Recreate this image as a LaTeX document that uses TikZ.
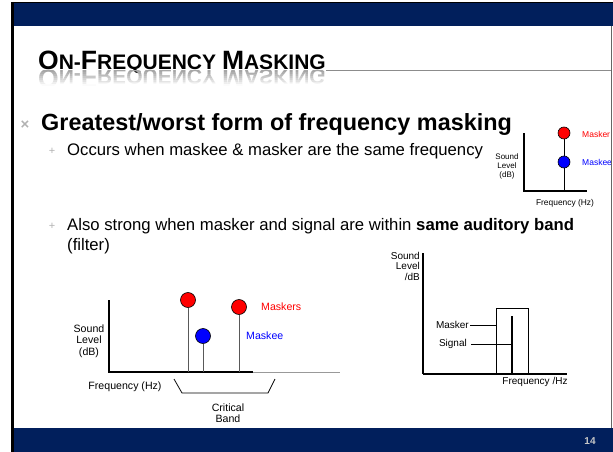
\documentclass[tikz,border=0pt]{standalone}
\usepackage{fontspec}
\setmainfont{Liberation Sans}

\definecolor{slidenavy}{RGB}{1,31,92}
\definecolor{maskred}{RGB}{255,0,0}
\definecolor{maskblue}{RGB}{0,0,255}

\newcommand\TitleBig{\fontsize{26.5}{30}\selectfont}
\newcommand\TitleSmall{\fontsize{21}{24}\selectfont}

\begin{document}
\begin{tikzpicture}[x=1pt,y=-1pt,>=stealth,font=\fontsize{10.6}{11.5}\selectfont,
  dot/.style={circle,draw=black,line width=0.6pt,minimum size=#1,inner sep=0pt},
  stem/.style={draw=black!65,line width=1pt},
  lbl/.style={inner sep=0pt,align=center},
  bulletmark/.style={text=black!30,inner sep=0pt},
  body/.style={anchor=base west,inner sep=0pt}]

  \useasboundingbox (0,0) rectangle (613,452);

  % Slide frame
  \fill[slidenavy] (11,2) rectangle (613,26);
  \fill[slidenavy] (11,428) rectangle (613,452);
  \draw[line width=2.5pt] (12.5,2) -- (12.5,452);
  \draw[line width=1pt] (11,2.5) -- (613,2.5);
  \node[text=black!22,font=\bfseries\fontsize{10}{12}\selectfont] (pagenum) at (590,441) {14};

  % Title with its reflection
  \node[body,font=\bfseries] (title) at (38,70)
    {\TitleBig O\TitleSmall N-\TitleBig F\TitleSmall REQUENCY \TitleBig M\TitleSmall ASKING};
  \begin{scope}
    \clip (30,70.6) rectangle (345,86);
    \node[body,font=\bfseries,yscale=-1,text=black!35] (titlerefl) at (38,70)
      {\TitleBig O\TitleSmall N-\TitleBig F\TitleSmall REQUENCY \TitleBig M\TitleSmall ASKING};
    \foreach \k in {0,...,6}
      \fill[white,opacity=\k/7+0.1] (30,{72+2*\k}) rectangle (345,{74+2*\k});
    \fill[white] (30,86) rectangle (345,92);
  \end{scope}
  \draw[black!45,line width=0.5pt] (title.base east) -- (611,70);

  % Bullets
  \node[bulletmark,font=\bfseries\fontsize{15}{15}\selectfont] (mark1) at (25,125) {×};
  \node[body,font=\bfseries\fontsize{23.4}{26}\selectfont] (pt1) at (41,130)
    {Greatest/worst form of frequency masking};
  \node[bulletmark,font=\fontsize{11}{11}\selectfont] (mark2) at (52,151) {+};
  \node[body,font=\fontsize{16.7}{20}\selectfont] (pt2) at (67,155)
    {Occurs when maskee \& masker are the same frequency};
  \node[bulletmark,font=\fontsize{11}{11}\selectfont] (mark3) at (52,226) {+};
  \node[body,font=\fontsize{16.7}{20}\selectfont] (pt3) at (67,230)
    {Also strong when masker and signal are within \textbf{same auditory band}};
  \node[body,font=\fontsize{16.7}{20}\selectfont] (pt3b) at (67,250) {(filter)};

  % Small chart, top right
  \coordinate (sTop) at (524,133);
  \coordinate (sO) at (524,191);
  \coordinate (sEnd) at (587,191);
  \coordinate (sFoot) at (564,191);
  \draw[line width=1.2pt] (sTop) -- (sO) -- (sEnd);
  \node[dot=12pt,fill=maskred] (sMasker) at (564,133) {};
  \node[dot=12pt,fill=maskblue] (sMaskee) at (564,162) {};
  \draw[line width=0.9pt] (sMasker) -- (sMaskee);
  \draw[line width=0.9pt] (sMaskee) -- (sFoot);
  \node[anchor=west,inner sep=0pt,text=maskred,font=\fontsize{8.5}{9}\selectfont] (sMaskerLbl) at (582,134) {Masker};
  \node[anchor=west,inner sep=0pt,text=maskblue,font=\fontsize{8.5}{9}\selectfont] (sMaskeeLbl) at (582,162) {Maskee};
  \node[lbl,font=\fontsize{8}{9}\selectfont] (sLevel) at (507,166) {Sound\\Level\\(dB)};
  \node[lbl,font=\fontsize{8.4}{9}\selectfont] (sFreq) at (565,203) {Frequency (Hz)};

  % Chart with the critical band, bottom left
  \coordinate (lTop) at (109,300);
  \coordinate (lO) at (109,372);
  \coordinate (lMid) at (253,372);
  \coordinate (lEnd) at (340,372);
  \draw[line width=1.3pt] (lTop) -- (lO) -- (lMid);
  \draw[black!40,line width=1pt] (lMid) -- (lEnd);
  \node[dot=15pt,fill=maskred] (lMaskerA) at (188,300) {};
  \node[dot=15pt,fill=maskblue] (lMaskee) at (203,336) {};
  \node[dot=15pt,fill=maskred] (lMaskerB) at (239,307) {};
  \draw[stem] (lMaskerA) -- (lMaskerA |- lO);
  \draw[stem] (lMaskee) -- (lMaskee |- lO);
  \draw[stem] (lMaskerB) -- (lMaskerB |- lO);
  \node[anchor=west,inner sep=0pt,text=maskred] (lMaskersLbl) at (261,307) {Maskers};
  \node[anchor=west,inner sep=0pt,text=maskblue] (lMaskeeLbl) at (246,336) {Maskee};
  \node[lbl] (lLevel) at (89,341) {Sound\\Level\\(dB)};
  \node[lbl] (lFreq) at (125,387) {Frequency (Hz)};
  \coordinate (bA) at (174,379);
  \coordinate (bB) at (182,393);
  \coordinate (bC) at (268,393);
  \coordinate (bD) at (275,379);
  \draw[line width=0.8pt] (bA) -- (bB) -- (bC) -- (bD);
  \node[lbl] (band) at (228,413) {Critical\\Band};

  % Masker and signal in one filter, bottom right
  \coordinate (rTop) at (423,253);
  \coordinate (rO) at (423,374);
  \coordinate (rEnd) at (567,374);
  \draw[line width=1.6pt] (rTop) -- (rO);
  \draw[line width=1.2pt] (rO) -- (rEnd);
  \node[draw,line width=1pt,minimum width=32pt,minimum height=65pt,inner sep=0pt,anchor=south west] (filter) at (496,374) {};
  \coordinate (sigTop) at (512,316);
  \coordinate (sigFoot) at (512,374);
  \draw[line width=1.5pt] (sigTop) -- (sigFoot);
  \node[anchor=east,inner sep=1pt,font=\fontsize{10}{11}\selectfont] (rMaskerLbl) at (470,325) {Masker};
  \draw[line width=0.8pt] (rMaskerLbl) -- (filter.west |- rMaskerLbl);
  \node[anchor=east,inner sep=1pt,font=\fontsize{10}{11}\selectfont] (rSignalLbl) at (468,344) {Signal};
  \draw[line width=0.8pt] ([xshift=3pt]rSignalLbl.east) -- (sigTop |- rSignalLbl);
  \node[lbl,align=right,anchor=north east,font=\fontsize{10}{10.5}\selectfont] (rLevel) at (420,252) {Sound\\Level\\/dB};
  \node[lbl,font=\fontsize{10}{11}\selectfont] (rFreq) at (535,382) {Frequency /Hz};

  % Right edge of the slide
  \draw[black!60,line width=0.8pt] (611,26) -- (611,428);
\end{tikzpicture}
\end{document}
